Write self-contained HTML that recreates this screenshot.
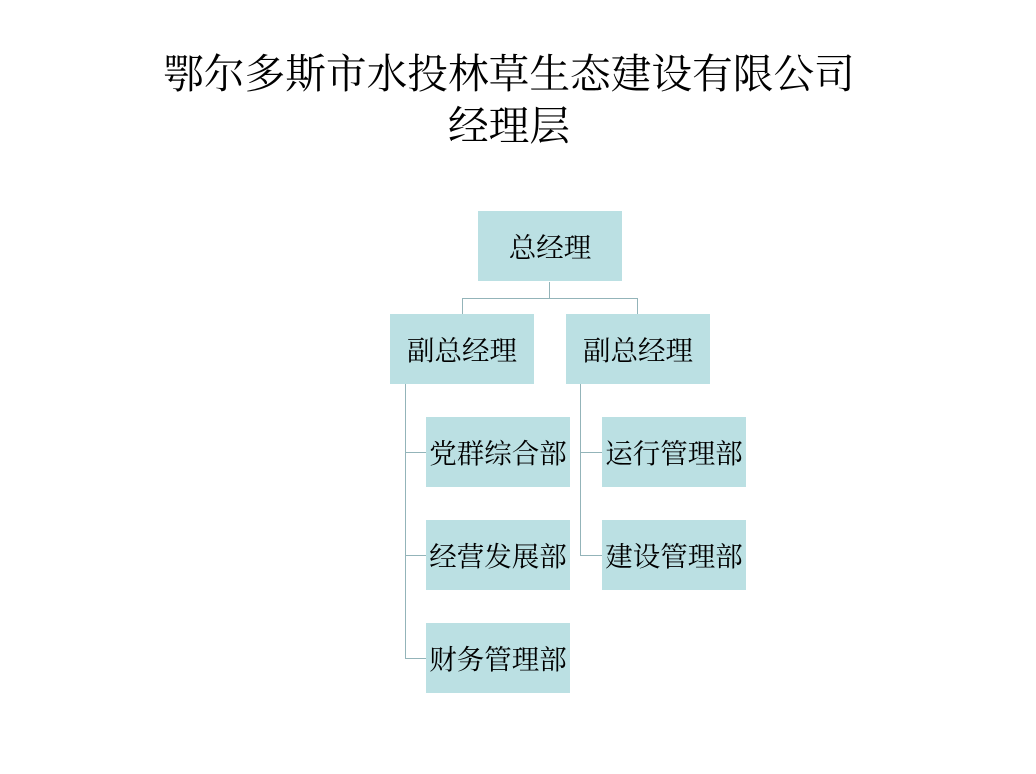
<!DOCTYPE html>
<html><head><meta charset="utf-8"><style>
body{margin:0;width:1036px;height:774px;background:#fff;position:relative;overflow:hidden;font-family:"Liberation Serif","Noto Serif CJK SC",serif;}
.t{position:absolute;left:0;width:1018px;text-align:center;font-size:40.7px;line-height:52px;color:#000}
.b{position:absolute;width:144px;height:68px;padding-bottom:2px;background:#bbe0e3;display:flex;align-items:center;justify-content:center;font-size:27.5px;color:#000;white-space:nowrap}
.l{position:absolute;background:#93b4b9}
</style></head><body>
<div class="t" style="top:49px">鄂尔多斯市水投林草生态建设有限公司</div>
<div class="t" style="top:101px">经理层</div>
<div class="l" style="left:549px;top:282px;width:1px;height:16px"></div>
<div class="l" style="left:462px;top:298px;width:176px;height:1px"></div>
<div class="l" style="left:462px;top:298px;width:1px;height:16px"></div>
<div class="l" style="left:637px;top:298px;width:1px;height:16px"></div>
<div class="l" style="left:405px;top:384px;width:1px;height:275px"></div>
<div class="l" style="left:405px;top:452px;width:21px;height:1px"></div>
<div class="l" style="left:405px;top:555px;width:21px;height:1px"></div>
<div class="l" style="left:405px;top:658px;width:21px;height:1px"></div>
<div class="l" style="left:580px;top:384px;width:1px;height:172px"></div>
<div class="l" style="left:580px;top:452px;width:22px;height:1px"></div>
<div class="l" style="left:580px;top:555px;width:22px;height:1px"></div>
<div class="b" style="left:478px;top:211px">总经理</div>
<div class="b" style="left:390px;top:314px">副总经理</div>
<div class="b" style="left:566px;top:314px">副总经理</div>
<div class="b" style="left:426px;top:417px">党群综合部</div>
<div class="b" style="left:426px;top:520px">经营发展部</div>
<div class="b" style="left:426px;top:623px">财务管理部</div>
<div class="b" style="left:602px;top:417px">运行管理部</div>
<div class="b" style="left:602px;top:520px">建设管理部</div>
</body></html>
